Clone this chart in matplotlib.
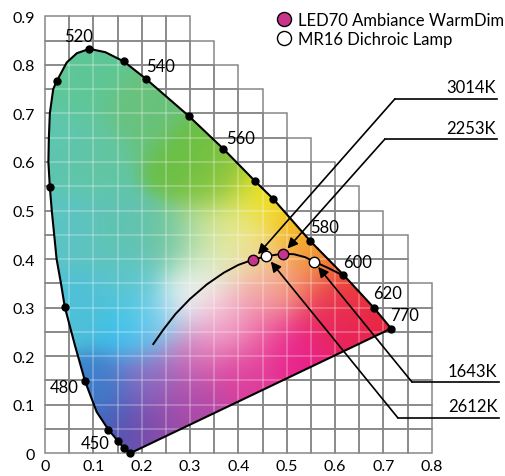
import numpy as np
import matplotlib.pyplot as plt
from matplotlib.patches import Polygon, Rectangle
from matplotlib.colors import to_rgb

plt.rcParams['font.family'] = ['Lato', 'DejaVu Sans']

# spectral locus outline (x, y chromaticity)
locus_x = [0.176, 0.163, 0.151, 0.131, 0.107, 0.083, 0.062, 0.041, 0.033, 0.024,
           0.014, 0.010, 0.007, 0.008, 0.010, 0.017, 0.024, 0.045, 0.066, 0.092,
           0.125, 0.163, 0.209, 0.297, 0.369, 0.434, 0.472, 0.548, 0.617, 0.681, 0.716]
locus_y = [0.000, 0.011, 0.025, 0.049, 0.085, 0.148, 0.222, 0.301, 0.350, 0.400,
           0.500, 0.548, 0.600, 0.650, 0.700, 0.750, 0.766, 0.805, 0.824, 0.833,
           0.826, 0.807, 0.771, 0.695, 0.627, 0.561, 0.524, 0.438, 0.368, 0.299, 0.257]

# black dots on the locus
dot_x = [0.176, 0.163, 0.151, 0.131, 0.083, 0.041, 0.010, 0.024, 0.092, 0.163,
         0.209, 0.297, 0.369, 0.434, 0.472, 0.548, 0.617, 0.681, 0.716]
dot_y = [0.000, 0.011, 0.025, 0.049, 0.148, 0.301, 0.548, 0.766, 0.833, 0.807,
         0.771, 0.695, 0.627, 0.561, 0.524, 0.438, 0.368, 0.299, 0.257]

wl_labels = ['450', '480', '520', '540', '560', '580', '600', '620', '770']
wl_x = [0.103, 0.040, 0.069, 0.240, 0.405, 0.578, 0.646, 0.709, 0.744]
wl_y = [0.021, 0.136, 0.860, 0.797, 0.650, 0.467, 0.395, 0.331, 0.284]

# black body curve
planck_x = [0.224, 0.245, 0.270, 0.300, 0.335, 0.370, 0.400, 0.431, 0.458, 0.492,
            0.515, 0.538, 0.556, 0.583, 0.617]
planck_y = [0.225, 0.255, 0.287, 0.318, 0.348, 0.372, 0.388, 0.399, 0.406, 0.411,
            0.410, 0.404, 0.395, 0.383, 0.366]

led_x = [0.431, 0.492]
led_y = [0.399, 0.411]
led_cct = ['3014K', '2253K']
mr_x = [0.458, 0.556]
mr_y = [0.406, 0.395]
mr_cct = ['2612K', '1643K']

# grid staircase: top of each row and how far right it goes
row_top = [0.90, 0.85, 0.80, 0.75, 0.70, 0.65, 0.60, 0.55, 0.50, 0.45, 0.40,
           0.35, 0.30, 0.25, 0.20, 0.15, 0.10, 0.05]
row_xmax = [0.30, 0.35, 0.40, 0.45, 0.50, 0.55, 0.60, 0.65, 0.70, 0.75, 0.75,
            0.80, 0.80, 0.80, 0.80, 0.80, 0.80, 0.80]

# colour samples of the painted diagram
paint_x = [0.08, 0.20, 0.30, 0.36, 0.45, 0.40, 0.51, 0.56, 0.63, 0.69, 0.62, 0.51,
           0.40, 0.30, 0.22, 0.15, 0.11, 0.19, 0.06, 0.04, 0.15, 0.26, 0.30, 0.34,
           0.38, 0.24, 0.02, 0.10, 0.30, 0.22, 0.36, 0.45, 0.47, 0.53, 0.59, 0.44,
           0.18, 0.34, 0.42]
paint_y = [0.78, 0.70, 0.60, 0.56, 0.52, 0.46, 0.46, 0.42, 0.35, 0.30, 0.27, 0.22,
           0.17, 0.10, 0.05, 0.05, 0.12, 0.26, 0.30, 0.45, 0.45, 0.43, 0.32, 0.37,
           0.29, 0.27, 0.62, 0.62, 0.20, 0.15, 0.25, 0.32, 0.37, 0.36, 0.30, 0.25,
           0.35, 0.44, 0.42]
paint_c = ['#5ec797', '#69c27c', '#6abf45', '#8cc63f', '#f2e416', '#e9ea8c',
           '#f6bc16', '#f39a20', '#ee4a2a', '#e8283a', '#e81f5f', '#e9218a',
           '#dc3d9c', '#b04aa8', '#8a4aa8', '#4b55b5', '#3d80cc', '#30c0ee',
           '#4fc0d8', '#5cc4c4', '#60c3b2', '#6dc5a0', '#fbfbfb', '#e4efd8',
           '#f6c8d8', '#9ad8f0', '#5dc6b0', '#62c6a4', '#d468b4', '#8a6cc4',
           '#f0a0c8', '#f29aa0', '#f7c4a0', '#f08060', '#e8305a', '#ec5aa0',
           '#5cc5cc', '#c8e4a0', '#f0e8a0']

xticks = [0, 0.1, 0.2, 0.3, 0.4, 0.5, 0.6, 0.7, 0.8]
xtick_labels = ['0', '0.1', '0.2', '0.3', '0.4', '0.5', '0.6', '0.7', '0.8']
yticks = [0, 0.1, 0.2, 0.3, 0.4, 0.5, 0.6, 0.7, 0.8, 0.9]
ytick_labels = ['0', '0.1', '0.2', '0.3', '0.4', '0.5', '0.6', '0.7', '0.8', '0.9']

magenta = '#c7358b'

fig = plt.figure(figsize=(5.06, 4.77), dpi=100)
ax = fig.add_axes([45/506, (477-454.3)/477, (431.7-45)/506, (454.3-17.3)/477])
ax.set_xlim(0, 0.8)
ax.set_ylim(0, 0.9)
for s in ax.spines.values():
    s.set_visible(False)

poly = Polygon(np.column_stack([locus_x, locus_y]), closed=True, transform=ax.transData)

for top, xmax in zip(row_top, row_xmax):
    for xl in np.arange(0, xmax - 1e-9, 0.05):
        ax.add_patch(Rectangle((xl, top - 0.05), 0.05, 0.05, fill=False,
                               ec='#878787', lw=1.1, clip_on=False, zorder=1))
        r = Rectangle((xl, top - 0.05), 0.05, 0.05, fill=False,
                      ec=(1, 1, 1, 0.17), lw=1.1, zorder=2.5)
        ax.add_patch(r)
        r.set_clip_path(poly)

# blend the colour samples into a smooth painting
gx, gy = np.meshgrid(np.linspace(0, 0.8, 320), np.linspace(0, 0.9, 360))
cols = np.array([to_rgb(c) for c in paint_c])
d2 = (gx[..., None] - np.array(paint_x)) ** 2 + (gy[..., None] - np.array(paint_y)) ** 2
w = np.exp(-d2 / (2 * 0.045 ** 2)) + 1e-12
img = (w[..., None] * cols).sum(axis=2) / w.sum(axis=2)[..., None]

im = ax.imshow(img, extent=(0, 0.8, 0, 0.9), origin='lower', zorder=2,
               interpolation='bilinear')
im.set_clip_path(poly)
ax.set_aspect('auto')

ax.plot(locus_x + [locus_x[0]], locus_y + [locus_y[0]], color='black', lw=1.5,
        zorder=3, clip_on=False)
ax.plot(dot_x, dot_y, 'o', color='black', ms=5, zorder=4, clip_on=False)
for t, x, y in zip(wl_labels, wl_x, wl_y):
    ax.text(x, y, t, ha='center', va='center', fontsize=12, zorder=5)

ax.plot(planck_x, planck_y, color='black', lw=1.4, zorder=4)
ax.plot(led_x, led_y, 'o', mfc=magenta, mec='black', mew=1, ms=7.5, zorder=6,
        label='LED70 Ambiance WarmDim')
ax.plot(mr_x, mr_y, 'o', mfc='white', mec='black', mew=1, ms=7.5, zorder=6,
        label='MR16 Dichroic Lamp')

# callouts
callouts = [
    (led_x[0], led_y[0], led_cct[0], 0.724, 0.730, 0.935),
    (led_x[1], led_y[1], led_cct[1], 0.703, 0.647, 0.935),
    (mr_x[1], mr_y[1], mr_cct[1], 0.759, 0.147, 0.939),
    (mr_x[0], mr_y[0], mr_cct[0], 0.730, 0.073, 0.939),
]
for px, py, lab, ex, ey, endx in callouts:
    ax.annotate('', xy=(px, py), xytext=(ex, ey), annotation_clip=False, zorder=5,
                arrowprops=dict(arrowstyle='-|>', color='black', lw=1.2,
                                shrinkA=0, shrinkB=5, mutation_scale=15))
    ax.plot([ex, endx], [ey, ey], color='black', lw=1.2, clip_on=False, zorder=5)
    ax.text(endx - 0.003, ey + 0.007, lab, ha='right', va='bottom', fontsize=12)

ax.legend(loc='upper left', bbox_to_anchor=(276/506, 1 - 13/477),
          bbox_transform=fig.transFigure, frameon=False, fontsize=12,
          handletextpad=0.3, labelspacing=0.15, handlelength=1.0,
          borderpad=0, borderaxespad=0, markerscale=1.35)

ax.set_xticks(xticks, xtick_labels)
ax.set_yticks(yticks, ytick_labels)
ax.tick_params(length=0, labelsize=11.5)
ax.tick_params(axis='x', pad=4)
ax.tick_params(axis='y', pad=7)

fig.savefig('out.png', dpi=100)
